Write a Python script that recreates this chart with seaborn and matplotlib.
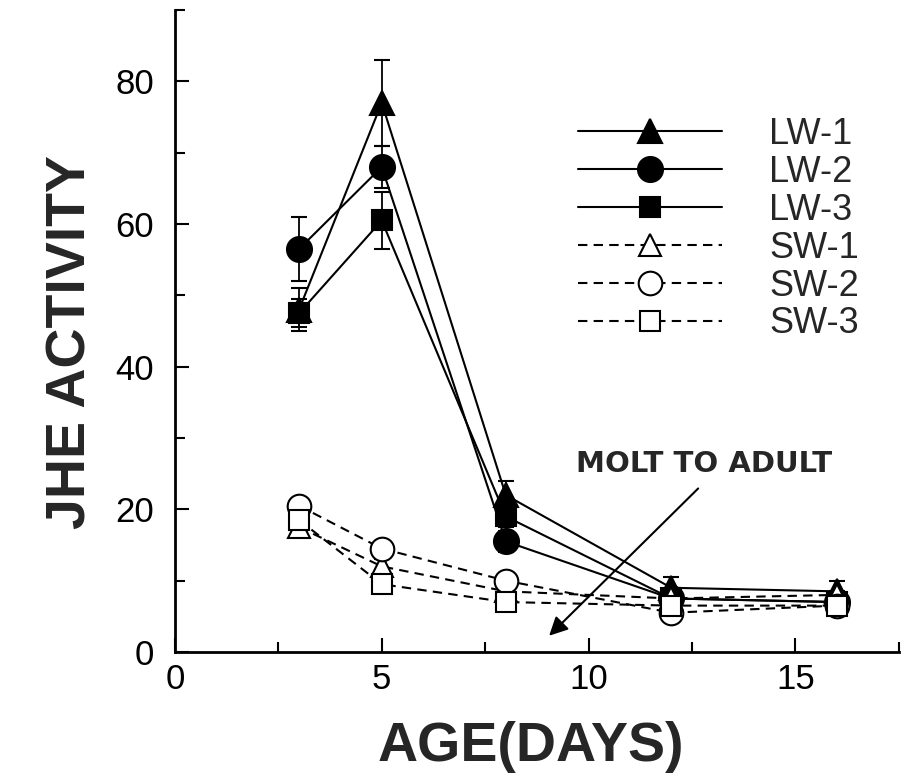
import numpy as np
import pandas as pd
import matplotlib
matplotlib.use("Agg")
import matplotlib.pyplot as plt
import seaborn as sns

sns.set_style("ticks")
plt.rcParams['font.family'] = ['Liberation Sans', 'DejaVu Sans']

# data
days = [3, 5, 8, 12, 16]
series_names = ['LW-1', 'LW-2', 'LW-3', 'SW-1', 'SW-2', 'SW-3']
lw1 = [48, 77, 22, 9, 8.5]
lw2 = [56.5, 68, 15.5, 7.5, 7]
lw3 = [47.5, 60.5, 19, 7.5, 7]
sw1 = [17.5, 12, 8.5, 7.5, 8]
sw2 = [20.5, 14.5, 10, 5.5, 6.5]
sw3 = [18.5, 9.5, 7, 6.5, 6.5]
lw1_err = [3, 6, 2, 1.5, 1.5]
lw2_err = [4.5, 3, 1.5, 1, 1]
lw3_err = [2, 4, 1.5, 1, 1]
sw1_err = [1, 1, 0.8, 0.5, 0.5]
sw2_err = [1, 1, 0.8, 0.5, 0.5]
sw3_err = [1, 1, 0.8, 0.5, 0.5]

values = [lw1, lw2, lw3, sw1, sw2, sw3]
errors = [lw1_err, lw2_err, lw3_err, sw1_err, sw2_err, sw3_err]
markers = ['^', 'o', 's', '^', 'o', 's']
msizes = [17, 18, 15, 16, 17, 15]

df = pd.DataFrame({
    'day': np.tile(days, len(series_names)),
    'jhe': np.concatenate(values),
    'err': np.concatenate(errors),
    'group': np.repeat(series_names, len(days)),
})

fig = plt.figure(figsize=(9.08, 7.78), dpi=100)
ax = fig.add_axes([0.1927, 0.162, 0.797, 0.825])

for i, name in enumerate(series_names):
    sub = df[df['group'] == name]
    filled = name.startswith('LW')
    ax.errorbar(sub['day'], sub['jhe'], yerr=sub['err'], fmt='none',
                ecolor='black', elinewidth=1.3, capsize=6, capthick=1.5,
                label='_nolegend_', zorder=2)
    sns.lineplot(data=sub, x='day', y='jhe', ax=ax, label=name,
                 color='black', linewidth=1.5,
                 linestyle='-' if filled else (0, (4.5, 3)),
                 marker=markers[i], markersize=msizes[i],
                 markerfacecolor='black' if filled else 'white',
                 markeredgecolor='black', markeredgewidth=1.5,
                 zorder=3)

ax.set_xlim(0, 17.5)
ax.set_ylim(0, 90)
ax.set_xticks([0, 5, 10, 15])
ax.set_xticks([2.5, 7.5, 12.5, 17.5], minor=True)
ax.set_yticks([0, 20, 40, 60, 80])
ax.set_yticks([10, 30, 50, 70, 90], minor=True)
ax.tick_params(axis='both', which='both', direction='in', width=1.5,
               colors='black', labelsize=25)
ax.tick_params(axis='both', which='major', length=10)
ax.tick_params(axis='both', which='minor', length=7)
ax.tick_params(axis='y', pad=15)
ax.tick_params(axis='x', pad=8)
for s in ['top', 'right']:
    ax.spines[s].set_visible(False)
for s in ['left', 'bottom']:
    ax.spines[s].set_linewidth(2)
    ax.spines[s].set_color('black')

ax.set_xlabel('AGE(DAYS)', fontsize=40, fontweight='bold')
ax.set_ylabel('JHE ACTIVITY', fontsize=40, fontweight='bold')
ax.xaxis.set_label_coords(0.492, -0.108)
ax.yaxis.set_label_coords(-0.107, 0.483)

ax.annotate('', xy=(9.0, 2.0), xytext=(12.7, 23.2),
            arrowprops=dict(arrowstyle='-|>', color='black', lw=1.5,
                            mutation_scale=28))
ax.text(9.7, 26.3, 'MOLT TO ADULT', fontsize=21, fontweight='bold',
        family=['DejaVu Sans'], ha='left', va='center')

leg = ax.legend(loc='upper left', bbox_to_anchor=(578 / 908, 1 - 117 / 778),
                bbox_transform=fig.transFigure, frameon=False, fontsize=26,
                handlelength=4.0, handletextpad=1.3, labelspacing=0.08,
                borderpad=0, borderaxespad=0)

fig.savefig('out.png', dpi=100)
